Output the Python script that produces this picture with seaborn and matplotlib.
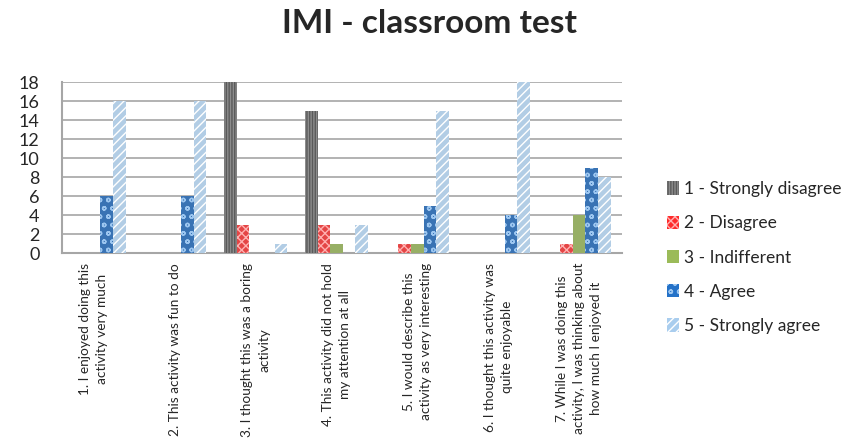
import pandas as pd
import matplotlib.pyplot as plt
import seaborn as sns
from matplotlib.patches import Patch

questions = [
    "1. I enjoyed doing this\nactivity very much",
    "2. This activity was fun to do",
    "3. I thought this was a boring\nactivity",
    "4. This activity did not hold\nmy attention at all",
    "5. I would describe this\nactivity as very interesting",
    "6. I thought this activity was\nquite enjoyable",
    "7. While I was doing this\nactivity, I was thinking about\nhow much I enjoyed it",
]
responses = ["1 - Strongly disagree", "2 - Disagree", "3 - Indifferent",
             "4 - Agree", "5 - Strongly agree"]

strongly_disagree = [0, 0, 18, 15, 0, 0, 0]
disagree = [0, 0, 3, 3, 1, 0, 1]
indifferent = [0, 0, 0, 1, 1, 0, 4]
agree = [6, 6, 0, 0, 5, 4, 9]
strongly_agree = [16, 16, 1, 3, 15, 18, 8]

colors = ["#8c8c8c", "#ff2a2a", "#9bbb59", "#2472c8", "#a9cdee"]
hatches = ["||||||", "xxxx", "", "oo", "////"]
hatch_colors = ["#5a5a5a", "#ffb0b0", "#9bbb59", "#9cc6f0", "#ffffff"]

series = [strongly_disagree, disagree, indifferent, agree, strongly_agree]
rows = []
for resp, vals in zip(responses, series):
    for q, v in zip(questions, vals):
        rows.append({"question": q, "response": resp, "count": v})
df = pd.DataFrame(rows)

sns.set_style("white")
plt.rcParams["font.family"] = ["Lato", "DejaVu Sans"]

fig = plt.figure(figsize=(8.56, 4.44), dpi=100)
ax = fig.add_axes([0.072, 0.43, 0.655, 0.385])

sns.barplot(data=df, x="question", y="count", hue="response",
            palette=colors, width=0.78, ax=ax, legend=False, zorder=3)

for container, hc, h in zip(ax.containers, hatch_colors, hatches):
    for bar in container:
        bar.set_hatch(h)
        bar.set_edgecolor(hc)
        bar.set_linewidth(0)

ax.set_ylim(0, 18)
ax.set_yticks(range(0, 19, 2))
ax.yaxis.grid(True, color="#a6a6a6", linewidth=1.2, zorder=0)
ax.set_xlim(-0.4, 6.535)
ax.set_xlabel("")
ax.set_ylabel("")
for s in ["top", "right"]:
    ax.spines[s].set_visible(False)
for s in ["left", "bottom"]:
    ax.spines[s].set_color("#a6a6a6")
    ax.spines[s].set_linewidth(1.5)

ax.tick_params(axis="y", labelsize=13, length=0, pad=16)
ax.tick_params(axis="x", length=0, pad=7)
ax.set_xticks(range(len(questions)))
ax.set_xticklabels(questions, rotation=90, fontsize=9.8, ha="center",
                   va="top", multialignment="center", linespacing=1.5)

fig.suptitle("IMI - classroom test", x=0.502, y=0.98, fontsize=24,
             fontweight="bold")

handles = [Patch(facecolor=c, edgecolor=hc, hatch=h, linewidth=0)
           for c, hc, h in zip(colors, hatch_colors, hatches)]
fig.legend(handles, responses, loc="center left",
           bbox_to_anchor=(0.761, 0.42), frameon=False, fontsize=12.5,
           handlelength=0.7, handleheight=0.8, handletextpad=0.3,
           labelspacing=1.05)

fig.savefig("out.png", dpi=100)
